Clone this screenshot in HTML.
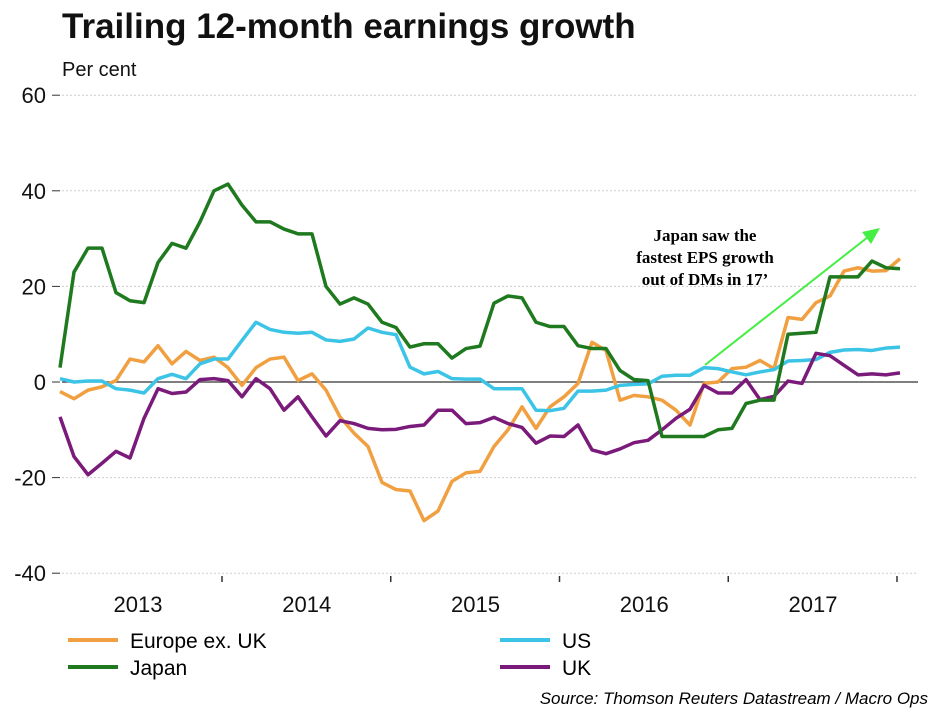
<!DOCTYPE html>
<html><head><meta charset="utf-8"><style>
body{margin:0;background:#fff;width:942px;height:710px;overflow:hidden;font-family:"Liberation Sans",sans-serif}
</style></head><body>
<svg width="942" height="710" xmlns="http://www.w3.org/2000/svg">
<text x="62" y="38" font-size="35" font-weight="bold" fill="#111">Trailing 12-month earnings growth</text>
<text x="62" y="76" font-size="20" fill="#111">Per cent</text>
<g id="grid"></g><g id="series"></g>
<text x="705" y="241" font-family="Liberation Serif" font-weight="bold" font-size="17" text-anchor="middle">Japan saw the</text>
<text x="705" y="263" font-family="Liberation Serif" font-weight="bold" font-size="17" text-anchor="middle">fastest EPS growth</text>
<text x="705" y="285" font-family="Liberation Serif" font-weight="bold" font-size="17" text-anchor="middle">out of DMs in 17’</text>
<line x1="705" y1="365" x2="868" y2="237" stroke="#44ee44" stroke-width="2"/>
<polygon points="880,228 862,232 871,244" fill="#44ee44"/>
<g>
<line x1="68" y1="640" x2="118" y2="640" stroke="#f0a040" stroke-width="4"/>
<text x="130" y="648" font-size="21">Europe ex. UK</text>
<line x1="68" y1="667" x2="118" y2="667" stroke="#1f7a1f" stroke-width="4"/>
<text x="130" y="675" font-size="21">Japan</text>
<line x1="500" y1="640" x2="550" y2="640" stroke="#3cc4e6" stroke-width="4"/>
<text x="562" y="648" font-size="21">US</text>
<line x1="500" y1="667" x2="550" y2="667" stroke="#7a1a7a" stroke-width="4"/>
<text x="562" y="675" font-size="21">UK</text>
</g>
<text x="928" y="704" font-size="17" font-style="italic" text-anchor="end">Source: Thomson Reuters Datastream / Macro Ops</text>
</svg>
<script>
const yTicks=[60,40,20,0,-20,-40];
const years=["2013","2014","2015","2016","2017"];
const japan=[3,23,28,28,18.7,17,16.6,25,29,28,33.5,40,41.4,37,33.5,33.5,32,31,31,20,16.3,17.6,16.3,12.5,11.4,7.3,8,8,5,7,7.5,16.5,18,17.6,12.5,11.6,11.6,7.6,7,7,2.4,0.5,0.3,-11.4,-11.4,-11.4,-11.4,-10,-9.7,-4.5,-3.8,-3.8,10,10.2,10.4,22,22,22,25.3,23.9,23.7];
const europe=[-2,-3.5,-1.7,-1,0.3,4.8,4.2,7.6,3.8,6.4,4.5,5.2,3,-0.7,3,4.8,5.2,0.3,1.7,-1.7,-7.3,-10.7,-13.5,-21,-22.5,-22.8,-29,-27,-20.8,-19,-18.7,-13.5,-10,-5.2,-9.7,-5.2,-3.1,-0.3,8.3,6.6,-3.8,-2.8,-3.1,-3.8,-5.9,-9,-0.3,0,2.8,3.1,4.5,2.8,13.5,13.1,16.6,18,23.2,23.9,23.2,23.3,25.8];
const us=[0.7,0,0.2,0.2,-1.4,-1.7,-2.3,0.7,1.6,0.7,3.8,4.8,4.8,8.7,12.5,11,10.4,10.2,10.4,8.8,8.5,9,11.3,10.4,9.9,3.1,1.7,2.2,0.7,0.6,0.6,-1.4,-1.4,-1.4,-5.9,-6,-5.5,-1.9,-1.9,-1.7,-0.7,-0.5,-0.4,1.2,1.4,1.4,3,2.8,2.1,1.5,2.1,2.6,4.4,4.5,4.7,6.2,6.7,6.8,6.6,7.1,7.3];
const uk=[-7.3,-15.6,-19.4,-17,-14.5,-15.9,-7.6,-1.4,-2.4,-2.1,0.5,0.7,0.3,-3.1,0.7,-1.4,-5.9,-3.1,-7.3,-11.3,-8.1,-8.7,-9.7,-10,-9.9,-9.3,-9,-5.9,-5.9,-8.7,-8.5,-7.4,-8.7,-9.5,-12.8,-11.3,-11.4,-9,-14.2,-15,-14,-12.7,-12.2,-10,-7.6,-5.7,-0.7,-2.3,-2.3,0.5,-3.7,-3,0.2,-0.3,6,5.5,3.5,1.5,1.7,1.5,1.9];
const NS="http://www.w3.org/2000/svg";
function yScale(v){return 382-v*4.78;}
function xScale(i){return 60+i*14;}
function yearTickX(k){return 222+k*168.75;}
const grid=document.getElementById('grid');
function mk(tag,attrs,parent){const e=document.createElementNS(NS,tag);for(const k in attrs)e.setAttribute(k,attrs[k]);parent.appendChild(e);return e;}
yTicks.forEach(v=>{
  const y=yScale(v);
  const g=mk('line',{x1:62,x2:918,y1:y,y2:y,stroke:v===0?'#333':'#ccc','stroke-width':v===0?1.2:1,'stroke-dasharray':v===0?'':'2,2'},grid);
  
  
  const t=mk('line',{x1:52,x2:60,y1:y,y2:y,stroke:'#333','stroke-width':1},grid);
  
  
  const l=mk('text',{x:46,y:y+8,'font-size':22,'text-anchor':'end',fill:'#111'},grid);
  l.textContent=v;
  
  
});
years.forEach((yr,k)=>{
  const x=yearTickX(k);
  const t=mk('line',{x1:x,x2:x,y1:576,y2:582,stroke:'#333','stroke-width':1.5},grid);
  
  
  const l=mk('text',{x:x-84,y:612,'font-size':22,'text-anchor':'middle',fill:'#111'},grid);
  l.textContent=yr;
  
  
});
const ser=document.getElementById('series');
[[europe,'#f0a040','europe-line'],[us,'#3cc4e6','us-line'],[uk,'#7a1a7a','uk-line'],[japan,'#1f7a1f','japan-line']].forEach(([d,c,n])=>{
  const p=mk('polyline',{points:d.map((v,i)=>xScale(i)+','+yScale(v)).join(' '),fill:'none',stroke:c,'stroke-width':3.5,'stroke-linejoin':'round'},ser);
  
  
});
</script>
</body></html>
